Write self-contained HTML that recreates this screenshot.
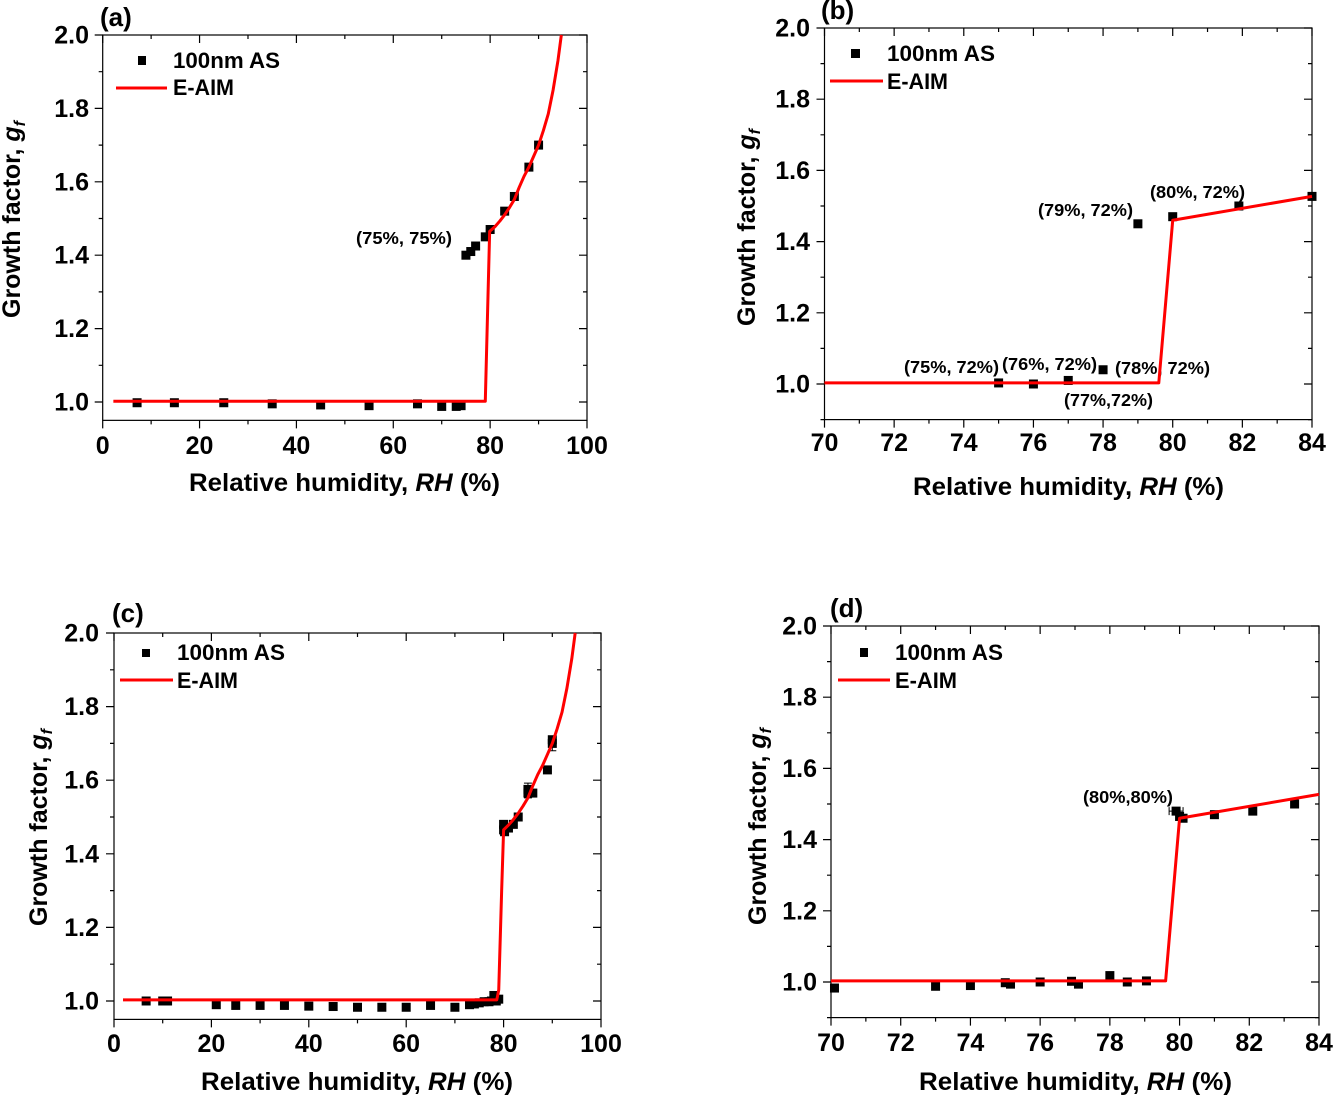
<!DOCTYPE html>
<html lang="en">
<head>
<meta charset="utf-8">
<title>Growth factor vs relative humidity</title>
<style>
html,body{margin:0;padding:0;background:#fff;}
svg{display:block;font-family:"Liberation Sans",Arial,sans-serif;font-weight:bold;fill:#000;}
.title{font-size:25px;}
.leg{font-size:22px;}
.ann{font-size:17.5px;}
.pl{font-size:26px;}
.tk{font-size:25px;}
</style>
</head>
<body>
<svg id="fig" xmlns="http://www.w3.org/2000/svg" width="1334" height="1095" viewBox="0 0 1334 1095">
  <g id="panel-a">
    <text class="pl" x="100" y="26">(a)</text>
    <text class="title" x="189" y="491" textLength="311" lengthAdjust="spacingAndGlyphs">Relative humidity, <tspan font-style="italic">RH</tspan> (%)</text>
    <text class="title" transform="translate(20,318) rotate(-90)">Growth factor, <tspan font-style="italic">g</tspan><tspan font-style="italic" font-size="16" dy="5">f</tspan></text>
    <text class="leg" x="173" y="68" textLength="107" lengthAdjust="spacingAndGlyphs">100nm AS</text>
    <text class="leg" x="173" y="95" textLength="61" lengthAdjust="spacingAndGlyphs">E-AIM</text>
    <rect x="138" y="56" width="8" height="9" fill="#000"/>
    <line x1="116" y1="88" x2="167" y2="88" stroke="#f00" stroke-width="3"/>
    <text class="ann" x="356" y="244" textLength="96" lengthAdjust="spacingAndGlyphs">(75%, 75%)</text>
  </g>
  <g id="panel-b">
    <text class="pl" x="821" y="19">(b)</text>
    <text class="title" x="913" y="495" textLength="311" lengthAdjust="spacingAndGlyphs">Relative humidity, <tspan font-style="italic">RH</tspan> (%)</text>
    <text class="title" transform="translate(755,326) rotate(-90)">Growth factor, <tspan font-style="italic">g</tspan><tspan font-style="italic" font-size="16" dy="5">f</tspan></text>
    <text class="leg" x="887" y="61" textLength="108" lengthAdjust="spacingAndGlyphs">100nm AS</text>
    <text class="leg" x="887" y="89" textLength="61" lengthAdjust="spacingAndGlyphs">E-AIM</text>
    <rect x="851" y="49" width="9" height="9" fill="#000"/>
    <line x1="830" y1="81" x2="883" y2="81" stroke="#f00" stroke-width="3"/>
    <text class="ann" x="904" y="373" textLength="95" lengthAdjust="spacingAndGlyphs">(75%, 72%)</text>
    <text class="ann" x="1002" y="370" textLength="95" lengthAdjust="spacingAndGlyphs">(76%, 72%)</text>
    <text class="ann" x="1064" y="406" textLength="89" lengthAdjust="spacingAndGlyphs">(77%,72%)</text>
    <text class="ann" x="1115" y="374" textLength="95" lengthAdjust="spacingAndGlyphs">(78%, 72%)</text>
    <text class="ann" x="1038" y="216" textLength="95" lengthAdjust="spacingAndGlyphs">(79%, 72%)</text>
    <text class="ann" x="1150" y="198" textLength="95" lengthAdjust="spacingAndGlyphs">(80%, 72%)</text>
  </g>
  <g id="panel-c">
    <text class="pl" x="112" y="622">(c)</text>
    <text class="title" x="201" y="1090" textLength="312" lengthAdjust="spacingAndGlyphs">Relative humidity, <tspan font-style="italic">RH</tspan> (%)</text>
    <text class="title" transform="translate(47,926) rotate(-90)">Growth factor, <tspan font-style="italic">g</tspan><tspan font-style="italic" font-size="16" dy="5">f</tspan></text>
    <text class="leg" x="177" y="660" textLength="108" lengthAdjust="spacingAndGlyphs">100nm AS</text>
    <text class="leg" x="177" y="688" textLength="61" lengthAdjust="spacingAndGlyphs">E-AIM</text>
    <rect x="142" y="649" width="8" height="8" fill="#000"/>
    <line x1="120" y1="680" x2="173" y2="680" stroke="#f00" stroke-width="3"/>
  </g>
  <g id="panel-d">
    <text class="pl" x="830" y="617">(d)</text>
    <text class="title" x="919" y="1090" textLength="313" lengthAdjust="spacingAndGlyphs">Relative humidity, <tspan font-style="italic">RH</tspan> (%)</text>
    <text class="title" transform="translate(766,925) rotate(-90)">Growth factor, <tspan font-style="italic">g</tspan><tspan font-style="italic" font-size="16" dy="5">f</tspan></text>
    <text class="leg" x="895" y="660" textLength="108" lengthAdjust="spacingAndGlyphs">100nm AS</text>
    <text class="leg" x="895" y="688" textLength="62" lengthAdjust="spacingAndGlyphs">E-AIM</text>
    <rect x="860" y="648" width="8" height="9" fill="#000"/>
    <line x1="838" y1="680" x2="890" y2="680" stroke="#f00" stroke-width="3"/>
    <text class="ann" x="1083" y="803" textLength="90" lengthAdjust="spacingAndGlyphs">(80%,80%)</text>
  </g>
</svg>
<script>
// Shared tick labels
var wideXTicks = [0, 20, 40, 60, 80, 100];
var narrowXTicks = [70, 72, 74, 76, 78, 80, 82, 84];
var yTicks = [1.0, 1.2, 1.4, 1.6, 1.8, 2.0];

// Panel (a)
var aPointRH = [7.1, 14.8, 25, 35, 45, 55, 65, 70, 73, 74, 75, 76, 77, 79, 80, 83, 85, 88, 90];
var aPointGf = [0.998, 0.998, 0.998, 0.995, 0.992, 0.99, 0.995, 0.988, 0.988, 0.99, 1.40, 1.41, 1.425, 1.45, 1.47, 1.52, 1.56, 1.64, 1.70];
var aLineRH = [2.2, 79, 79.9, 81, 82, 83, 84, 85, 86, 87, 88, 89, 90, 91, 92, 93, 94, 94.7];
var aLineGf = [1.002, 1.002, 1.465, 1.478, 1.493, 1.51, 1.53, 1.552, 1.585, 1.615, 1.64, 1.67, 1.70, 1.74, 1.785, 1.85, 1.93, 2.0];

// Panel (b)
var bPointRH = [75, 76, 77, 78, 79, 80, 81.9, 84];
var bPointGf = [1.003, 1.0, 1.01, 1.04, 1.45, 1.47, 1.50, 1.527];
var bLineRH = [70, 79.6, 80, 84];
var bLineGf = [1.003, 1.003, 1.46, 1.527];

// Panel (c)
var cPointRH = [6.6, 10, 11, 21, 25, 30, 35, 40, 45, 50, 55, 60, 65, 70, 73, 74, 75, 76, 77, 77.5, 78, 78.5, 79, 80, 80, 80.2, 81, 82, 83, 85, 85, 86, 89, 90, 90];
var cPointGf = [1.0, 1.0, 1.0, 0.99, 0.988, 0.988, 0.988, 0.986, 0.985, 0.983, 0.983, 0.983, 0.988, 0.983, 0.99, 0.992, 0.995, 0.998, 0.998, 1.0, 1.015, 1.0, 1.005, 1.48, 1.465, 1.46, 1.47, 1.48, 1.50, 1.575, 1.565, 1.565, 1.628, 1.71, 1.70];
var cErrRH = [85, 90];
var cErrGf = [1.572, 1.70];
var cErrSize = [0.02, 0.02];
var cLineRH = [1.85, 78.6, 79, 79.6, 80, 81, 82, 83, 84, 85, 86, 87, 88, 89, 90, 91, 92, 93, 94, 94.7];
var cLineGf = [1.003, 1.003, 1.03, 1.30, 1.465, 1.478, 1.493, 1.51, 1.53, 1.552, 1.585, 1.615, 1.64, 1.67, 1.70, 1.74, 1.785, 1.85, 1.93, 2.0];

// Panel (d)
var dPointRH = [70.1, 73, 74, 75, 75.15, 76, 76.9, 77.1, 78, 78.5, 79.05, 79.9, 80, 80.1, 81, 82.1, 83.3];
var dPointGf = [0.983, 0.988, 0.99, 0.998, 0.994, 1.0, 1.002, 0.994, 1.018, 1.0, 1.003, 1.48, 1.465, 1.46, 1.47, 1.48, 1.50];
var dLineRH = [70, 79.6, 80, 84];
var dLineGf = [1.003, 1.003, 1.46, 1.527];
var dHErrRH = [79.9];
var dHErrGf = [1.48];
var dHErrSize = [0.2];

var NS = 'http://www.w3.org/2000/svg';

function mk(parent, tag, props) {
  var el = document.createElementNS(NS, tag);
  for (var k in props) { el.setAttribute(k, props[k]); }
  parent.appendChild(el);
  return el;
}

function drawPanel(o) {
  var g = document.getElementById(o.id);
  function sx(v) { return o.left + (v - o.xMin) / (o.xMax - o.xMin) * (o.right - o.left); }
  function sy(v) { return o.y1 + (1 - v) * (o.y1 - o.y2); }
  var bottom = sy(o.yMin);
  var top = sy(2);

  var frame = mk(g, 'rect', {x: o.left, y: top, width: o.right - o.left, height: bottom - top, fill: 'none', stroke: '#000', 'stroke-width': 1.2});
  
  

  var i, t, v, p;
  // x ticks
  for (i = 0; i < o.xt.length; i++) {
    v = o.xt[i];
    t = mk(g, 'path', {d: 'M' + sx(v) + ' ' + bottom + 'v8M' + sx(v) + ' ' + top + 'v8', stroke: '#000', 'stroke-width': 1.2, fill: 'none'});
    
    
    var xl = mk(g, 'text', {x: sx(v), y: o.xLabelY, 'text-anchor': 'middle', 'class': 'tk'});
    xl.textContent = v;
    
    
    if (i < o.xt.length - 1) {
      var mid = (v + o.xt[i + 1]) / 2;
      t = mk(g, 'path', {d: 'M' + sx(mid) + ' ' + bottom + 'v4M' + sx(mid) + ' ' + top + 'v4', stroke: '#000', 'stroke-width': 1.2, fill: 'none'});
      
      
    }
  }
  // y ticks
  for (i = 0; i < yTicks.length; i++) {
    v = yTicks[i];
    t = mk(g, 'path', {d: 'M' + o.left + ' ' + sy(v) + 'h-8M' + o.right + ' ' + sy(v) + 'h-8', stroke: '#000', 'stroke-width': 1.2, fill: 'none'});
    
    
    var yl = mk(g, 'text', {x: o.yLabelX, y: sy(v) + 8.5, 'text-anchor': 'end', 'class': 'tk'});
    yl.textContent = v.toFixed(1);
    
    
    var minor = v - 0.1;
    t = mk(g, 'path', {d: 'M' + o.left + ' ' + sy(minor) + 'h-4M' + o.right + ' ' + sy(minor) + 'h-4', stroke: '#000', 'stroke-width': 1.2, fill: 'none'});
    
    
  }
  // points
  for (i = 0; i < o.px.length; i++) {
    p = mk(g, 'rect', {x: sx(o.px[i]) - 4.5, y: sy(o.py[i]) - 4.5, width: 9, height: 9, fill: '#000'});
    
    
  }
  // vertical error bars
  if (o.ex) {
    for (i = 0; i < o.ex.length; i++) {
      var a = sy(o.ey[i] + o.es[i]), b = sy(o.ey[i] - o.es[i]), c = sx(o.ex[i]);
      p = mk(g, 'path', {d: 'M' + c + ' ' + a + 'V' + b + 'M' + (c - 4) + ' ' + a + 'h8M' + (c - 4) + ' ' + b + 'h8', stroke: '#000', 'stroke-width': 1, fill: 'none'});
      
      
    }
  }
  // horizontal error bars
  if (o.hx) {
    for (i = 0; i < o.hx.length; i++) {
      var l = sx(o.hx[i] - o.hs[i]), r = sx(o.hx[i] + o.hs[i]), m = sy(o.hy[i]);
      p = mk(g, 'path', {d: 'M' + l + ' ' + m + 'H' + r + 'M' + l + ' ' + (m - 4) + 'v8M' + r + ' ' + (m - 4) + 'v8', stroke: '#000', 'stroke-width': 1, fill: 'none'});
      
      
    }
  }
  // model line
  var pts = [];
  for (i = 0; i < o.lx.length; i++) { pts.push(sx(o.lx[i]) + ',' + sy(o.ly[i])); }
  var line = mk(g, 'polyline', {points: pts.join(' '), fill: 'none', stroke: '#f00', 'stroke-width': 3, 'stroke-linejoin': 'round'});
  
  
}

drawPanel({id: 'panel-a', left: 102.7, right: 587, xMin: 0, xMax: 100, y2: 35, y1: 402, yMin: 0.95, xt: wideXTicks, xLabelY: 454, yLabelX: 89, px: aPointRH, py: aPointGf, lx: aLineRH, ly: aLineGf});
drawPanel({id: 'panel-b', left: 824.5, right: 1312, xMin: 70, xMax: 84, y2: 28, y1: 384, yMin: 0.9, xt: narrowXTicks, xLabelY: 451, yLabelX: 810, px: bPointRH, py: bPointGf, lx: bLineRH, ly: bLineGf});
drawPanel({id: 'panel-c', left: 114, right: 601, xMin: 0, xMax: 100, y2: 633, y1: 1001, yMin: 0.95, xt: wideXTicks, xLabelY: 1052, yLabelX: 99, px: cPointRH, py: cPointGf, lx: cLineRH, ly: cLineGf, ex: cErrRH, ey: cErrGf, es: cErrSize});
drawPanel({id: 'panel-d', left: 831, right: 1319, xMin: 70, xMax: 84, y2: 626, y1: 982, yMin: 0.9, xt: narrowXTicks, xLabelY: 1051, yLabelX: 817, px: dPointRH, py: dPointGf, lx: dLineRH, ly: dLineGf, hx: dHErrRH, hy: dHErrGf, hs: dHErrSize});
</script>
</body>
</html>
